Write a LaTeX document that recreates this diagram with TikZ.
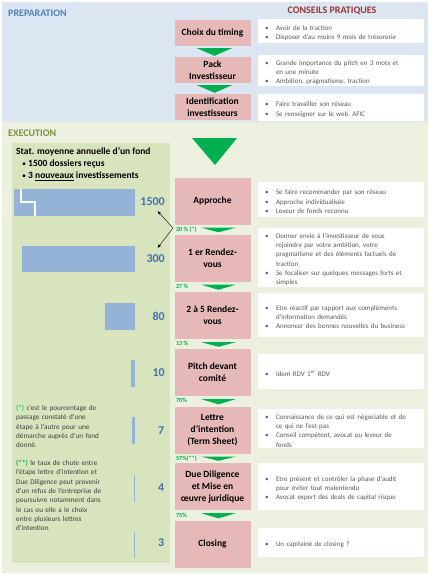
\documentclass[tikz,border=0pt]{standalone}
\usepackage{fontspec}
\setmainfont{Carlito}
\usetikzlibrary{arrows.meta}

\definecolor{fondprep}{RGB}{220,230,242}
\definecolor{fondexec}{RGB}{235,241,222}
\definecolor{fondstat}{RGB}{215,228,189}
\definecolor{rose}{RGB}{230,185,184}
\definecolor{vert}{RGB}{0,176,80}
\definecolor{bleubarre}{RGB}{149,179,215}
\definecolor{bleutitre}{RGB}{79,129,189}
\definecolor{rouge}{RGB}{149,55,53}
\definecolor{olive}{RGB}{119,147,60}
\definecolor{chiffre}{RGB}{68,114,176}
\definecolor{gristexte}{RGB}{89,89,89}

\newcommand{\puce}[1]{\par\hangindent=13pt\hangafter=1\noindent\hbox to 13pt{\hskip2pt\textbullet\hfil}#1\par}
\newcommand{\petitpuce}{\makebox[6pt][l]{\normalfont\fontsize{8}{10}\selectfont\textbullet}}

\begin{document}
\begin{tikzpicture}[x=1pt, y=-1pt,
    etape/.style={fill=rose, minimum width=76pt, minimum height=47pt, inner sep=1pt, align=center, font=\fontsize{9.5}{12}\selectfont\bfseries},
    prepa/.style={etape, minimum height=26pt},
    conseil/.style={fill=white, text=gristexte, text width=156pt, inner xsep=5pt, inner ysep=1pt, align=left, font=\fontsize{7}{9.3}\selectfont},
    taux/.style={anchor=west, inner sep=0pt, text=vert, font=\fontsize{6.2}{7}\selectfont\bfseries},
    nombre/.style={anchor=east, inner sep=0pt, text=chiffre, font=\fontsize{12}{14}\selectfont\bfseries},
    titre/.style={anchor=west, inner sep=0pt, font=\fontsize{10}{12}\selectfont\bfseries},
    stattexte/.style={titre, font=\fontsize{9.5}{12}\selectfont\bfseries},
    note/.style={anchor=north west, inner sep=0pt, text width=104pt, align=left, text=black!75, font=\fontsize{7.2}{9.3}\selectfont},
    fleche/.style={fill=vert},
    baton/.style={fill=bleubarre}]

    \useasboundingbox (0,0) rectangle (430,575);

    % Fonds
    \fill[fondprep] (2,2) rectangle (428,122);
    \fill[fondexec] (2,122) rectangle (428,573);
    \fill[fondstat] (12,143) rectangle (170,563);

    % Titres
    \node[titre, text=bleutitre] (prep) at (8,13) {PREPARATION};
    \node[titre, text=rouge, anchor=center] (conseils) at (332,11) {CONSEILS PRATIQUES};
    \node[titre, text=olive] (exec) at (8,133) {EXECUTION};

    % Statistiques
    \node[stattexte] (stat) at (16,152) {Stat. moyenne annuelle d’un fond};
    \node[stattexte] (dossiers) at (22,164) {\petitpuce 1500 dossiers reçus};
    \node[stattexte] (invest) at (22,176) {\petitpuce 3 \underline{nouveaux} investissements};

    % Barres
    \fill[baton] (14,189) rectangle (135,216);
    \draw[white, line width=2pt] (21,189) -- (21,202) -- (35,202) -- (35,216);
    \fill[baton] (22,246) rectangle (135,272);
    \fill[baton] (105,303) rectangle (135,330);
    \fill[baton] (131.2,359.5) rectangle (135,386.5);
    \fill[baton] (132.4,417) rectangle (135,444);
    \fill[baton] (133.5,475) rectangle (135,502);
    \fill[baton] (133.9,532) rectangle (135,558);

    % Nombres
    \node[nombre] (n1500) at (165,202) {1500};
    \node[nombre] (n300) at (165,259) {300};
    \node[nombre] (n80) at (165,316) {80};
    \node[nombre] (n10) at (165,373) {10};
    \node[nombre] (n7) at (164.5,431) {7};
    \node[nombre] (n4) at (164.5,488) {4};
    \node[nombre] (n3) at (164.5,543) {3};

    \coordinate (coude) at (173,228);
    \draw[thin, {Stealth[length=4pt,width=3pt]}-{Stealth[length=4pt,width=3pt]}] ([xshift=5pt,yshift=-5pt]n1500.south) -- (coude) -- ([xshift=2pt,yshift=7pt]n300.north);

    % Etapes
    \node[prepa] (timing) at (212.5,33) {Choix du timing};
    \node[prepa] (pack) at (212.5,70) {Pack\\Investisseur};
    \node[prepa] (ident) at (212.5,107) {Identification\\investisseurs};
    \node[etape] (approche) at (212.5,201) {Approche};
    \node[etape] (rdv1) at (212.5,258) {1 er Rendez-\\vous};
    \node[etape] (rdv25) at (212.5,315.5) {2 à 5 Rendez-\\vous};
    \node[etape] (pitch) at (212.5,372.5) {Pitch devant\\comité};
    \node[etape] (lettre) at (212.5,430) {Lettre\\d’intention\\(Term Sheet)};
    \node[etape] (due) at (212.5,486.5) {Due Diligence\\et Mise en\\œuvre juridique};
    \node[etape] (closing) at (212.5,544) {Closing};

    % Fleches
    \fill[fleche] ([xshift=-15.5pt,yshift=-2pt]timing.south) -- ([xshift=19.5pt,yshift=-2pt]timing.south) -- ([xshift=2pt,yshift=1pt]pack.north) -- cycle;
    \fill[fleche] ([xshift=-15.5pt,yshift=-2pt]pack.south) -- ([xshift=19.5pt,yshift=-2pt]pack.south) -- ([xshift=2pt,yshift=1pt]ident.north) -- cycle;
    \fill[fleche] (192,138) -- (237,138) -- (215,165) -- cycle;
    \fill[fleche] ([xshift=-11pt,yshift=-3pt]approche.south) -- ([xshift=23pt,yshift=-3pt]approche.south) -- ([xshift=6pt,yshift=2pt]rdv1.north) -- cycle;
    \fill[fleche] ([xshift=-11pt,yshift=-3pt]rdv1.south) -- ([xshift=23pt,yshift=-3pt]rdv1.south) -- ([xshift=6pt,yshift=2pt]rdv25.north) -- cycle;
    \fill[fleche] ([xshift=-11pt,yshift=-3pt]rdv25.south) -- ([xshift=23pt,yshift=-3pt]rdv25.south) -- ([xshift=6pt,yshift=2pt]pitch.north) -- cycle;
    \fill[fleche] ([xshift=-11pt,yshift=-3pt]pitch.south) -- ([xshift=23pt,yshift=-3pt]pitch.south) -- ([xshift=6pt,yshift=2pt]lettre.north) -- cycle;
    \fill[fleche] ([xshift=-11pt,yshift=-3pt]lettre.south) -- ([xshift=23pt,yshift=-3pt]lettre.south) -- ([xshift=6pt,yshift=2pt]due.north) -- cycle;
    \fill[fleche] ([xshift=-11pt,yshift=-3pt]due.south) -- ([xshift=23pt,yshift=-3pt]due.south) -- ([xshift=6pt,yshift=2pt]closing.north) -- cycle;

    % Taux
    \node[taux] (t1) at ([xshift=1.5pt,yshift=-5pt]approche.south west) {20 \% (*)};
    \node[taux] (t2) at ([xshift=1.5pt,yshift=-5pt]rdv1.south west) {27 \%};
    \node[taux] (t3) at ([xshift=1.5pt,yshift=-4pt]rdv25.south west) {13 \%};
    \node[taux] (t4) at ([xshift=1.5pt,yshift=-4pt]pitch.south west) {70\%};
    \node[taux] (t5) at ([xshift=1.5pt,yshift=-5pt]lettre.south west) {57\%(**)};
    \node[taux] (t6) at ([xshift=1.5pt,yshift=-5pt]due.south west) {75\%};

    % Conseils
    \node[conseil, minimum height=24pt] (c1) at (341,31) {\puce{Avoir de la traction}\puce{Disposer d’au moins 9 mois de trésorerie}};
    \node[conseil, minimum height=27pt] (c2) at (341,70.5) {\puce{Grande importance du pitch en 3 mots et\newline en une minute}\puce{Ambition, pragmatisme, traction}};
    \node[conseil, minimum height=27pt] (c3) at (341,107.5) {\puce{Faire travailler son réseau}\puce{Se renseigner sur le web, AFIC}};
    \node[conseil, minimum height=35pt] (c4) at (341,199.5) {\puce{Se faire recommander par son réseau}\puce{Approche individualisée}\puce{Leveur de fonds reconnu}};
    \node[conseil, minimum height=59pt] (c5) at (341,257.5) {\puce{Donner envie à l’investisseur de vous\newline rejoindre par votre ambition, votre\newline pragmatisme et des éléments factuels de\newline traction}\puce{Se focaliser sur quelques messages forts et\newline simples}};
    \node[conseil, minimum height=44pt] (c6) at (341,315) {\puce{Etre réactif par rapport aux compléments\newline d’information demandés}\puce{Annoncer des bonnes nouvelles du business}};
    \node[conseil, minimum height=35pt] (c7) at (341,371.5) {\puce{Idem RDV 1\textsuperscript{er} RDV}};
    \node[conseil, minimum height=39pt] (c8) at (341,428.5) {\puce{Connaissance de ce qui est négociable et de\newline ce qui ne l’est pas}\puce{Conseil compétent, avocat ou leveur de\newline fonds}};
    \node[conseil, minimum height=47pt] (c9) at (341,486.5) {\puce{Etre présent et contrôler la phase d’audit\newline pour éviter tout malentendu}\puce{Avocat expert des deals de capital risque}};
    \node[conseil, minimum height=29pt] (c10) at (341,542.5) {\puce{Un capitaine de closing ?}};

    % Notes
    \node[note] (note1) at (16,405) {\textcolor{vert}{(*)} c’est le pourcentage de\\passage constaté d’une\\étape à l’autre pour une\\démarche auprès d’un fond\\donné.};
    \node[note] (note2) at (16,460) {\textcolor{vert}{\bfseries(**)} le taux de chute entre\\l’étape lettre d’intention et\\Due Diligence peut provenir\\d’un refus de l’entreprise de\\poursuivre notamment dans\\le cas ou elle a le choix\\entre plusieurs lettres\\d’intention.};

\end{tikzpicture}
\end{document}
